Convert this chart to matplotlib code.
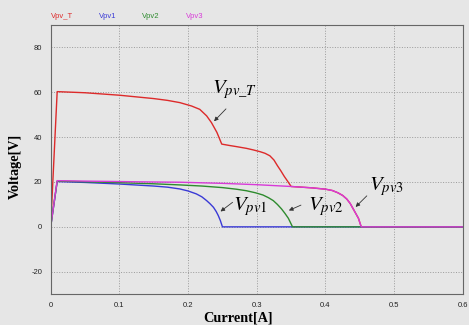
import numpy as np
import matplotlib.pyplot as plt

# PV string curves: voltage vs current
i_t = [0, 0.0095, 0.05, 0.1, 0.15, 0.17, 0.188, 0.205, 0.217, 0.227, 0.234, 0.242, 0.249,
       0.26, 0.27, 0.285, 0.295, 0.305, 0.312, 0.319, 0.325, 0.33, 0.335, 0.34, 0.345, 0.35,
       0.38, 0.4, 0.41, 0.418, 0.425, 0.431, 0.436, 0.44, 0.444, 0.448, 0.452, 0.6]
v_t = [0, 60.3, 59.8, 58.7, 57.2, 56.4, 55.4, 53.9, 52.4, 49.5, 46.5, 42.1, 36.9,
       36.3, 35.8, 35.0, 34.3, 33.5, 32.8, 31.7, 29.8, 27.3, 25.0, 22.5, 20.3, 18.0,
       17.4, 16.8, 16.2, 15.2, 14.0, 12.4, 10.4, 8.2, 6.0, 3.8, 0, 0]

i_1 = [0, 0.0095, 0.05, 0.1, 0.15, 0.17, 0.188, 0.2, 0.212, 0.22, 0.227, 0.232, 0.237, 0.241,
       0.244, 0.247, 0.25, 0.6]
v_1 = [0, 20.2, 19.8, 19.1, 18.2, 17.7, 16.9, 16.0, 14.7, 13.4, 11.7, 10.3, 8.7, 6.8,
       5.0, 2.8, 0, 0]

i_2 = [0, 0.0095, 0.05, 0.1, 0.15, 0.188, 0.22, 0.25, 0.27, 0.285, 0.298, 0.309, 0.317, 0.324,
       0.33, 0.336, 0.341, 0.346, 0.352, 0.6]
v_2 = [0, 20.4, 20.1, 19.7, 19.2, 18.7, 18.2, 17.5, 16.8, 16.1, 15.2, 14.2, 13.0, 11.7,
       10.0, 8.0, 6.0, 3.8, 0, 0]

i_3 = [0, 0.0095, 0.05, 0.1, 0.15, 0.188, 0.25, 0.3, 0.35, 0.38, 0.4, 0.41, 0.418, 0.425,
       0.431, 0.436, 0.44, 0.444, 0.448, 0.452, 0.6]
v_3 = [0, 20.6, 20.4, 20.2, 20.0, 19.9, 19.4, 18.8, 18.0, 17.4, 16.8, 16.2, 15.2, 14.0,
       12.4, 10.4, 8.2, 6.0, 3.8, 0, 0]

names = ['Vpv_T', 'Vpv1', 'Vpv2', 'Vpv3']
colors = ['#dd2a2a', '#3a3ad6', '#2e8b2e', '#d83ad8']

plt.rcParams['mathtext.fontset'] = 'stix'
plt.rcParams['axes.unicode_minus'] = False
bg = '#e6e6e6'

fig = plt.figure(figsize=(4.69, 3.25), dpi=100, facecolor=bg)
ax = fig.add_axes([0.108, 0.095, 0.879, 0.828], facecolor=bg)

for x, y, c in zip([i_t, i_1, i_2, i_3], [v_t, v_1, v_2, v_3], colors):
    ax.plot(x, y, color=c, lw=1.0)

ax.set_xlim(0, 0.6)
ax.set_ylim(-30, 90)
ax.set_xticks(np.arange(0, 0.61, 0.1))
ax.set_xticklabels(['0', '0.1', '0.2', '0.3', '0.4', '0.5', '0.6'])
ax.set_yticks([-20, 0, 20, 40, 60, 80])
ax.tick_params(length=0, labelsize=5.5, labelcolor='#222222', pad=6,
               labelfontfamily='Liberation Sans')
ax.grid(True, color='#9a9a9a', linestyle=':', linewidth=0.7)
for s in ax.spines.values():
    s.set_color('#666666')
    s.set_linewidth(0.8)

fig.text(237.5 / 469, 1 - 318 / 325, 'Current[A]', fontsize=10.3, fontweight='bold',
         family='Liberation Serif', ha='center', va='center')
fig.text(15 / 469, 1 - 166 / 325, 'Voltage[V]', fontsize=10.3, fontweight='bold',
         family='Liberation Serif', ha='center', va='center', rotation=90)

# colored names across the top
for k, (n, c) in enumerate(zip(names, colors)):
    fig.text([51, 99, 142, 186][k] / 469, 1 - 16 / 325, n, color=c, fontsize=5.5,
             family='Liberation Sans', va='center', ha='left')

# curve labels with arrows
arrow = dict(arrowstyle='-|>', color='#333333', lw=0.6, mutation_scale=6)
ax.annotate('$V_{pv\\_T}$', xy=(0.235, 46.2), xytext=(0.235, 56), fontsize=15, ha='left', va='bottom')
ax.annotate('', xy=(0.235, 46.2), xytext=(0.258, 53.5), arrowprops=arrow)
ax.annotate('$V_{pv1}$', xy=(0.244, 6.1), xytext=(0.266, 4), fontsize=15, ha='left', va='bottom')
ax.annotate('', xy=(0.244, 6.1), xytext=(0.268, 11.7), arrowprops=arrow)
ax.annotate('$V_{pv2}$', xy=(0.343, 6.8), xytext=(0.374, 4), fontsize=15, ha='left', va='bottom')
ax.annotate('', xy=(0.343, 6.8), xytext=(0.368, 10.2), arrowprops=arrow)
ax.annotate('$V_{pv3}$', xy=(0.441, 8), xytext=(0.464, 12.8), fontsize=15, ha='left', va='bottom')
ax.annotate('', xy=(0.441, 8), xytext=(0.463, 14.7), arrowprops=arrow)

fig.savefig('out.png', dpi=100, facecolor=bg)
